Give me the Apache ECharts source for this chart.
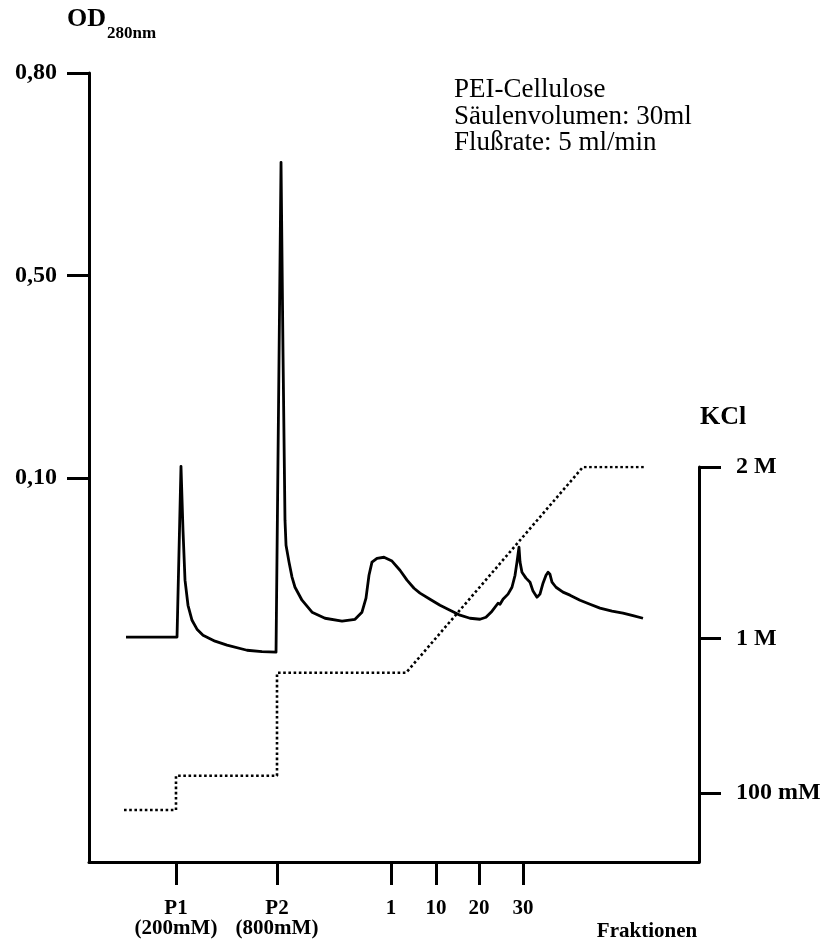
<!DOCTYPE html>
<html>
<head>
<meta charset="utf-8">
<script src="https://cdn.jsdelivr.net/npm/echarts@6/dist/echarts.min.js"></script>
<style>
  html, body { margin: 0; padding: 0; background: #fff; }
  #odChart { width: 825px; height: 942px; }
</style>
</head>
<body>
<div id="odChart"></div>
<script>
  // Elutionsprofil OD280nm: x = Position auf der Fraktionsachse, y = Position auf der gestauchten OD-Skala
  const odX = [6.07, 14.43, 15.08, 15.41, 15.74, 16.23, 16.89, 17.70, 18.69, 20.66, 22.62, 25.90, 28.36, 30.66,
    31.48, 31.80, 32.13, 32.30, 32.79, 33.28, 33.77, 34.92, 36.56, 38.69, 41.48, 43.61, 44.75, 45.41, 45.90,
    46.39, 47.21, 48.36, 49.67, 50.98, 52.13, 53.28, 54.26, 55.90, 57.54, 59.18, 60.82, 62.46, 64.10, 65.08,
    66.07, 67.05, 67.38, 67.87, 68.69, 69.34, 69.84, 70.16, 70.49, 70.66, 70.98, 71.64, 72.30, 72.79, 73.44,
    73.93, 74.43, 74.92, 75.25, 75.57, 75.90, 76.56, 77.70, 78.85, 80.49, 82.13, 83.77, 85.74, 87.54, 89.18, 90.82]
  const odY = [0.216, 0.216, 1.059, 0.743, 0.497, 0.373, 0.299, 0.255, 0.225, 0.196, 0.176, 0.151, 0.144, 0.142,
    2.559, 1.631, 0.793, 0.669, 0.586, 0.512, 0.462, 0.398, 0.339, 0.309, 0.295, 0.304, 0.339, 0.408, 0.521,
    0.586, 0.605, 0.610, 0.591, 0.546, 0.497, 0.457, 0.433, 0.403, 0.373, 0.349, 0.324, 0.309, 0.304, 0.314,
    0.344, 0.383, 0.378, 0.403, 0.428, 0.462, 0.521, 0.586, 0.660, 0.586, 0.536, 0.507, 0.487, 0.443, 0.413,
    0.428, 0.482, 0.521, 0.536, 0.526, 0.487, 0.462, 0.438, 0.423, 0.398, 0.378, 0.359, 0.344, 0.334, 0.322, 0.309]

  // KCl-Stufen und Gradient (M)
  const kclX = [5.74, 14.26, 14.26, 30.82, 30.82, 51.97, 80.98, 91.15]
  const kclM = [0, 0, 0.2, 0.2, 0.8, 0.8, 2, 2]

  // Achsenbeschriftungen
  const xTickPos = [14.26, 30.82, 49.51, 56.89, 63.93, 71.15]
  const xTickLabels = ['P1\n(200mM)', 'P2\n(800mM)', '1', '10', '20', '30']
  const odTickPos = [1, 2, 3]
  const odTickLabels = ['0,10', '0,50', '0,80']
  const kclTickPos = [0.1, 1, 2]
  const kclTickLabels = ['100 mM', '1 M', '2 M']

  const serif = '"Liberation Serif", "Times New Roman", serif'

  function pick(pos, labels) {
    return function (v) {
      for (let i = 0; i < pos.length; i++) {
        if (Math.abs(pos[i] - v) < 1e-6) return labels[i]
      }
      return ''
    }
  }

  function label(x, y, text, font, align) {
    return {
      type: 'text', x: x, y: y,
      style: { text: text, font: font, fill: '#000', align: align, verticalAlign: 'middle', textAlign: align, textVerticalAlign: 'middle' }
    }
  }

  const axisLine = { show: true, onZero: false, lineStyle: { color: '#000', width: 3 } }

  let odChart = echarts.init(document.getElementById('odChart'))
  odChart.setOption({
    animation: false,
    backgroundColor: '#fff',
    grid: [
      { left: 89, right: 126, top: 73, bottom: 80 },
      { left: 89, right: 126, top: 467, bottom: 80 }
    ],
    xAxis: [{
      type: 'value', gridIndex: 0, min: 0, max: 100,
      axisLine: axisLine,
      splitLine: { show: false },
      axisTick: { show: true, customValues: xTickPos, length: 23, lineStyle: { color: '#000', width: 3 } },
      axisLabel: {
        customValues: xTickPos, formatter: pick(xTickPos, xTickLabels),
        margin: 37, verticalAlign: 'top', lineHeight: 20,
        color: '#000', fontFamily: serif, fontWeight: 'bold', fontSize: 21
      }
    }, {
      type: 'value', gridIndex: 1, min: 0, max: 100, show: false
    }],
    yAxis: [{
      type: 'value', gridIndex: 0, min: -0.894, max: 3,
      axisLine: axisLine,
      splitLine: { show: false },
      axisTick: { show: true, customValues: odTickPos, length: 22, lineStyle: { color: '#000', width: 3 } },
      axisLabel: {
        customValues: odTickPos, formatter: pick(odTickPos, odTickLabels), margin: 32,
        color: '#000', fontFamily: serif, fontWeight: 'bold', fontSize: 24
      }
    }, {
      type: 'value', gridIndex: 1, position: 'right', min: -0.303, max: 2,
      axisLine: axisLine,
      splitLine: { show: false },
      axisTick: { show: true, customValues: kclTickPos, length: 22, lineStyle: { color: '#000', width: 3 } },
      axisLabel: {
        customValues: kclTickPos, formatter: pick(kclTickPos, kclTickLabels), margin: 37,
        color: '#000', fontFamily: serif, fontWeight: 'bold', fontSize: 24
      }
    }],
    series: [{
      name: 'OD280nm', type: 'line', xAxisIndex: 0, yAxisIndex: 0,
      data: odX.map((x, i) => [x, odY[i]]),
      showSymbol: false, smooth: false,
      lineStyle: { color: '#000', width: 2.8, join: 'round' }
    }, {
      name: 'KCl', type: 'line', xAxisIndex: 1, yAxisIndex: 1,
      data: kclX.map((x, i) => [x, kclM[i]]),
      showSymbol: false,
      lineStyle: { color: '#000', width: 2.6, type: [2.6, 2.6], cap: 'butt' }
    }],
    graphic: [
      label(67, 19, 'OD', 'bold 26px ' + serif, 'left'),
      label(107, 34, '280nm', 'bold 17px ' + serif, 'left'),
      label(700, 417, 'KCl', 'bold 26px ' + serif, 'left'),
      label(647, 932, 'Fraktionen', 'bold 21px ' + serif, 'center'),
      label(454, 90, 'PEI-Cellulose', '27px ' + serif, 'left'),
      label(454, 117, 'Säulenvolumen: 30ml', '27px ' + serif, 'left'),
      label(454, 143, 'Flußrate: 5 ml/min', '27px ' + serif, 'left')
    ]
  })
</script>
</body>
</html>
